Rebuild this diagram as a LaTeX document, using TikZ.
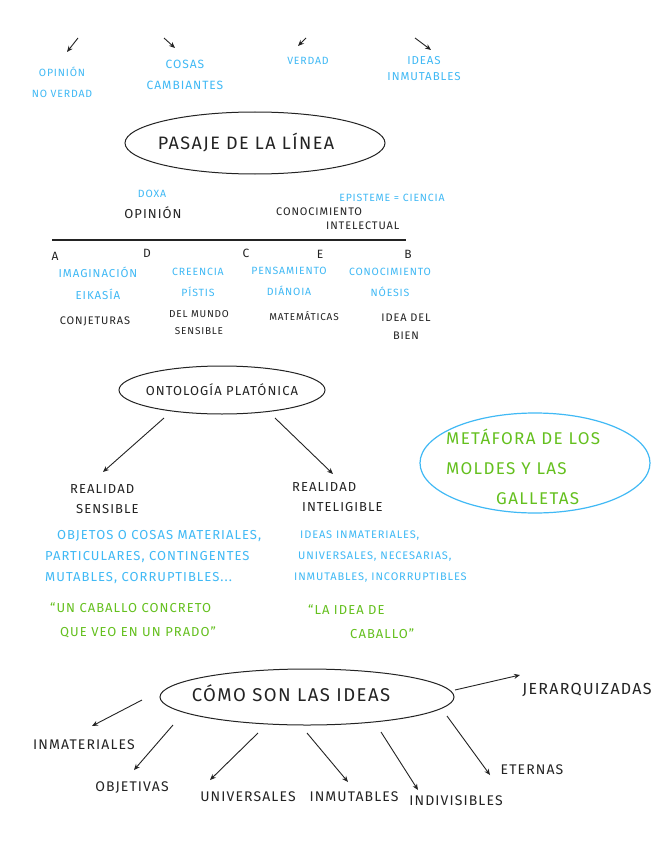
\documentclass[tikz,border=0pt]{standalone}
\usepackage{fontspec}
\setmainfont{Fira Sans}[LetterSpace=8]
\usetikzlibrary{arrows.meta}
\definecolor{hblue}{RGB}{64,185,245}
\definecolor{hgreen}{RGB}{100,192,30}
\definecolor{hink}{RGB}{35,35,35}
\tikzset{
  x=1pt,y=-1pt,
  blk/.style={text=hink,font=\fontsize{11}{18}\selectfont,align=center,inner sep=0pt},
  blkbig/.style={text=hink,font=\fontsize{13}{16}\selectfont,align=center,inner sep=0pt},
  blu/.style={text=hblue,font=\fontsize{10.5}{21}\selectfont,align=center,inner sep=0pt},
  bluleft/.style={text=hblue,font=\fontsize{11}{21}\selectfont,align=left,inner sep=0pt,anchor=west},
  grn/.style={text=hgreen,font=\fontsize{13}{24}\selectfont,align=left,inner sep=0pt,anchor=west},
  grnbig/.style={text=hgreen,font=\fontsize{17}{30}\selectfont,align=left,inner sep=0pt,anchor=west},
  title/.style={text=hink,font=\fontsize{18}{20}\selectfont,inner sep=0pt},
  word/.style={text=hink,font=\fontsize{14}{16}\selectfont,inner sep=0pt},
  arr/.style={draw=hink,line width=0.9pt,-{Stealth[length=6pt,width=5pt]}},
  oval/.style={draw=hink,line width=1pt},
}
\begin{document}
\begin{tikzpicture}
\useasboundingbox[fill=white] (0,0) rectangle (655,848);
% top row
\coordinate (t1a) at (78,38); \coordinate (t1b) at (67,52);
\coordinate (t2a) at (164,38); \coordinate (t2b) at (175,48);
\coordinate (t3a) at (306,38); \coordinate (t3b) at (298,46);
\coordinate (t4a) at (415,38); \coordinate (t4b) at (431,50);
\draw[arr] (t1a) -- (t1b);
\draw[arr] (t2a) -- (t2b);
\draw[arr] (t3a) -- (t3b);
\draw[arr] (t4a) -- (t4b);
\node[blu] (op) at (62,82) {OPINIÓN\\NO VERDAD};
\node[blu,font=\fontsize{12}{21}\selectfont] (cc) at (185,75) {COSAS\\CAMBIANTES};
\node[blu] (ver) at (308,61) {VERDAD};
\node[blu,font=\fontsize{11.5}{21}\selectfont] (idi) at (424,69) {IDEAS\\[-5pt]INMUTABLES};
% pasaje de la linea
\draw[oval] (255,143) ellipse [x radius=130,y radius=31];
\node[title] (pas) at (246,143) {PASAJE DE LA LÍNEA};
\node[blu] (doxa) at (152,194) {DOXA};
\node[blkbig] (opin) at (153,213) {OPINIÓN};
\node[blu] (epi) at (392,198) {EPISTEME = CIENCIA};
\node[blk,align=left,anchor=west] (con) at (276,219) {CONOCIMIENTO\\[-4pt]\hspace*{50pt}INTELECTUAL};
\coordinate (la) at (52,240); \coordinate (lb) at (406,240);
\draw[hink,line width=1.3pt] (la) -- (lb);
\node[blk,font=\fontsize{12}{14}\selectfont] (A) at (55,256) {A};
\node[blk,font=\fontsize{12}{14}\selectfont] (D) at (147,253) {D};
\node[blk,font=\fontsize{12}{14}\selectfont] (C) at (246,253) {C};
\node[blk,font=\fontsize{12}{14}\selectfont] (E) at (320,254) {E};
\node[blk,font=\fontsize{12}{14}\selectfont] (B) at (408,254) {B};
\node[blu,font=\fontsize{11.5}{22}\selectfont] (im) at (98,283) {IMAGINACIÓN\\EIKASÍA};
\node[blu] (cr) at (198,282) {CREENCIA\\PÍSTIS};
\node[blu] (pe) at (289,281) {PENSAMIENTO\\DIÁNOIA};
\node[blu] (co) at (390,282) {CONOCIMIENTO\\NÓESIS};
\node[blk] (cj) at (95,321) {CONJETURAS};
\node[blk,font=\fontsize{10}{17}\selectfont] (dm) at (199,323) {DEL MUNDO\\SENSIBLE};
\node[blk,font=\fontsize{10}{17}\selectfont] (ma) at (304,316) {MATEMÁTICAS};
\node[blk] (ib) at (406,327) {IDEA DEL\\BIEN};
% ontologia
\draw[oval] (222,390) ellipse [x radius=103,y radius=24];
\node[title,font=\fontsize{13}{14}\selectfont] (ont) at (222,390) {ONTOLOGÍA PLATÓNICA};
\coordinate (o1) at (164,418); \coordinate (o2) at (275,418);
\node[blk,font=\fontsize{13}{20}\selectfont,align=left,anchor=west] (rs) at (70,499) {REALIDAD\\\hspace*{6pt}SENSIBLE};
\node[blk,font=\fontsize{13}{20}\selectfont,align=left,anchor=west] (ri) at (292,497) {REALIDAD\\\hspace*{10pt}INTELIGIBLE};
\draw[arr] (o1) -- (103,472);
\draw[arr] (o2) -- (333,474);
\node[bluleft,font=\fontsize{13}{21}\selectfont] (ls) at (45,557) {\hspace*{12pt}OBJETOS O COSAS MATERIALES,\\PARTICULARES, CONTINGENTES\\MUTABLES, CORRUPTIBLES...};
\node[bluleft] (li) at (294,557) {\hspace*{6pt}IDEAS INMATERIALES,\\\hspace*{4pt}UNIVERSALES, NECESARIAS,\\INMUTABLES, INCORRUPTIBLES};
\node[grn] (gs) at (50,620) {“UN CABALLO CONCRETO\\\hspace*{10pt}QUE VEO EN UN PRADO”};
\node[grn] (gi) at (308,622) {“LA IDEA DE\\\hspace*{42pt}CABALLO”};
% metafora
\draw[hblue,line width=1.2pt] (535,463) ellipse [x radius=115,y radius=50];
\node[grnbig] (met) at (446,467) {METÁFORA DE LOS\\MOLDES Y LAS\\\hspace*{50pt}GALLETAS};
% como son las ideas
\draw[oval] (307,697) ellipse [x radius=147,y radius=28];
\node[title,font=\fontsize{18.5}{20}\selectfont] (cs) at (291,693) {CÓMO SON LAS IDEAS};
\node[word] (n1) at (84,745) {INMATERIALES};
\node[word] (n2) at (132,788) {OBJETIVAS};
\node[word] (n3) at (248,797) {UNIVERSALES};
\node[word] (n4) at (354,797) {INMUTABLES};
\node[word] (n5) at (456,801) {INDIVISIBLES};
\node[word] (n6) at (532,770) {ETERNAS};
\node[word,font=\fontsize{16}{18}\selectfont] (n7) at (587,690) {JERARQUIZADAS};
\coordinate (c1) at (142,700); \coordinate (c2) at (173,725);
\coordinate (c3) at (258,733); \coordinate (c4) at (307,733);
\coordinate (c5) at (381,732); \coordinate (c6) at (447,716);
\coordinate (c7) at (455,690);
\draw[arr] (c1) -- (92,726);
\draw[arr] (c2) -- (134,770);
\draw[arr] (c3) -- (210,780);
\draw[arr] (c4) -- (348,782);
\draw[arr] (c5) -- (418,790);
\draw[arr] (c6) -- (490,775);
\draw[arr] (c7) -- (520,675);
\end{tikzpicture}
\end{document}
